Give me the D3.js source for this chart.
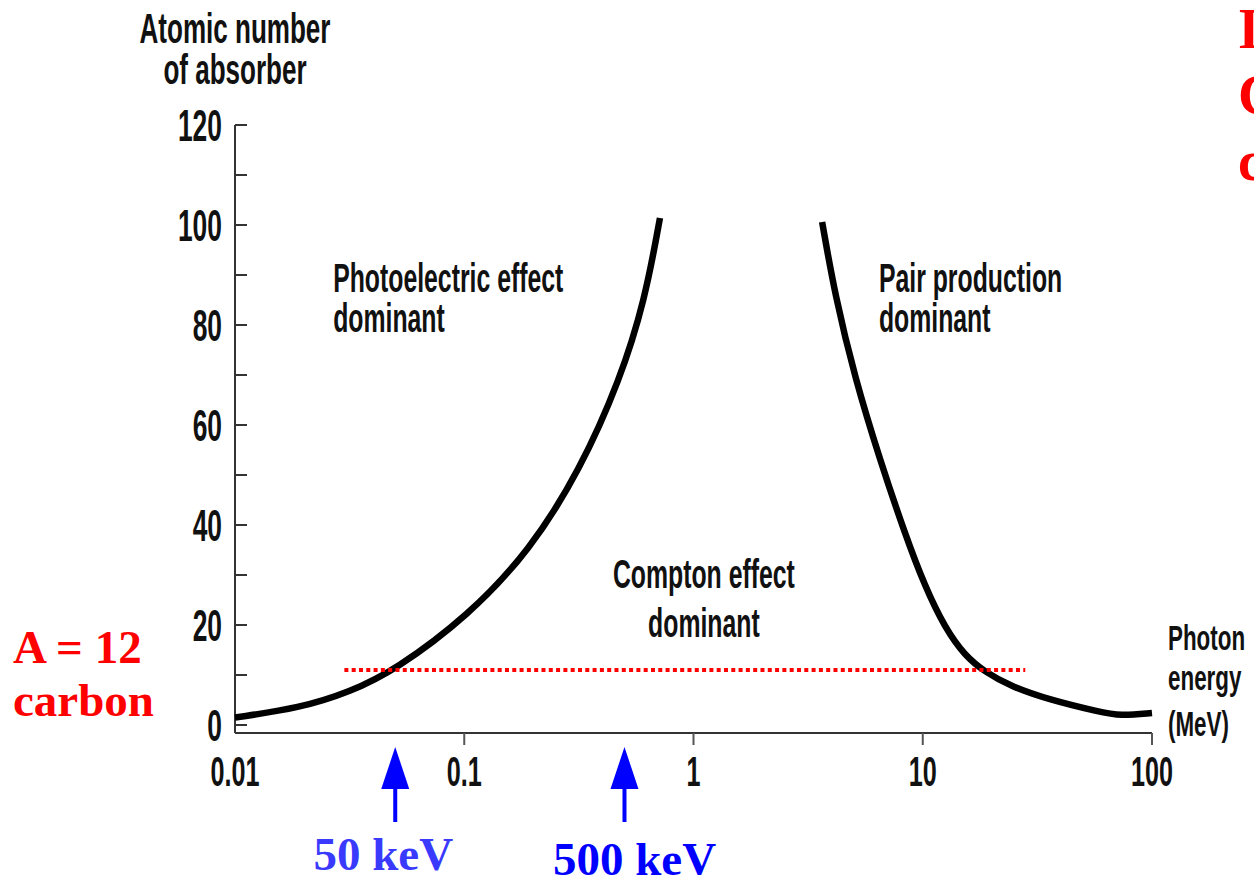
<!DOCTYPE html>
<html lang="en">
<head>
    <meta charset="UTF-8">
    <title>Photon interactions</title>
    <style>
        body { margin: 0; background-color: #fff; overflow: hidden; }
        svg { display: block; }
    </style>
</head>
<body>
<script src="https://cdnjs.cloudflare.com/ajax/libs/d3/7.8.5/d3.min.js"></script>
<script>

    let width = 1254
    let height = 875

    // boundary photoelectric / compton (energy MeV, Z)
    let photoE = [0.01, 0.0192, 0.0317, 0.05, 0.104, 0.194, 0.32, 0.478, 0.614, 0.714]
    let photoZ = [1.5, 3.4, 6.6, 11, 21.8, 35, 51, 69, 85, 101.4]
    // boundary compton / pair production
    let pairE = [3.64, 4.14, 5.06, 6.51, 8.37, 10.2, 12.5, 15.3, 18.7, 24, 35.9, 59.3, 72.5, 100]
    let pairZ = [100.6, 86, 69.4, 53, 38.2, 27.8, 19.4, 13.8, 10.6, 7.8, 5, 2.6, 1.8, 2.4]

    let xTicks = [0.01, 0.1, 1, 10, 100]
    let xTickLabels = ["0.01", "0.1", "1", "10", "100"]
    let yTicks = [0, 20, 40, 60, 80, 100, 120]
    let yMinor = [10, 30, 50, 70, 90, 110]

    let carbonZ = 11
    let carbonRange = [0.03, 28]
    let arrowE = [0.05, 0.5]
    let arrowLabels = ["50 keV", "500 keV"]

    let regions = [
        {lines: ["Photoelectric effect", "dominant"], e: 0.0268, z: 86.6, gap: 40, anchor: "start"},
        {lines: ["Pair production", "dominant"], e: 6.44, z: 86.6, gap: 40, anchor: "start"},
        {lines: ["Compton effect", "dominant"], e: 1.11, z: 27.4, gap: 49, anchor: "middle"}
    ]

    let x = d3.scaleLog().domain([0.01, 100]).range([235, 1152])
    let y = d3.scaleLinear().domain([0, 120]).range([725, 125])
    let axisY = 733
    let squeeze = 0.62

    let svg = d3.select("body").append("svg")
        .attr("width", width)
        .attr("height", height)

    let ink = svg.append("g")
        .attr("font-family", "'Liberation Sans', Arial, sans-serif")
        .attr("font-weight", "bold")
        .attr("fill", "#111")

    // condensed text: measure, then squeeze horizontally
    function label(g, str, px, py, size, anchor, k) {
        let t = g.append("text")
            .attr("x", px)
            .attr("y", py)
            .attr("font-size", size)
            .attr("text-anchor", anchor)
            .text(str)
        let w = t.node().getComputedTextLength()
        t.attr("textLength", w * (k || squeeze)).attr("lengthAdjust", "spacingAndGlyphs")
        return t
    }

    // axes
    svg.append("line")
        .attr("x1", x(0.01)).attr("x2", x(0.01))
        .attr("y1", y(120)).attr("y2", axisY)
        .attr("stroke", "#333").attr("stroke-width", 2)
    svg.append("line")
        .attr("x1", x(0.01)).attr("x2", x(100))
        .attr("y1", axisY).attr("y2", axisY)
        .attr("stroke", "#333").attr("stroke-width", 2)

    svg.selectAll(".ytick")
        .data(yTicks.concat(yMinor))
        .enter()
        .append("line")
            .attr("x1", x(0.01)).attr("x2", x(0.01) + 12)
            .attr("y1", d => y(d)).attr("y2", d => y(d))
            .attr("stroke", "#333").attr("stroke-width", 2)

    svg.selectAll(".xtick")
        .data(xTicks.slice(1))
        .enter()
        .append("line")
            .attr("x1", d => x(d)).attr("x2", d => x(d))
            .attr("y1", axisY).attr("y2", axisY + 12)
            .attr("stroke", "#555").attr("stroke-width", 2)

    yTicks.forEach(v => label(ink, String(v), x(0.01) - 13, y(v) + 16, 44, "end", 0.6))
    xTicks.forEach((v, i) => label(ink, xTickLabels[i], x(v), 786, 42, "middle", 0.6))

    label(ink, "Atomic number", 235, 43, 42, "middle")
    label(ink, "of absorber", 235, 84, 42, "middle")
    label(ink, "Photon", 1168, 650, 35, "start", 0.64)
    label(ink, "energy", 1168, 690, 35, "start", 0.64)
    label(ink, "(MeV)", 1168, 736, 35, "start", 0.64)

    regions.forEach(r => {
        r.lines.forEach((s, i) => label(ink, s, x(r.e), y(r.z) + i * r.gap, 40, r.anchor))
    })

    // boundary curves
    let line = d3.line()
        .x(d => x(d[0]))
        .y(d => y(d[1]))
        .curve(d3.curveBasis)

    ;[[photoE, photoZ], [pairE, pairZ]].forEach(([es, zs]) => {
        svg.append("path")
            .datum(es.map((e, i) => [e, zs[i]]))
            .attr("d", line)
            .attr("fill", "none")
            .attr("stroke", "#000")
            .attr("stroke-width", 6.5)
    })

    // carbon line
    svg.append("line")
        .attr("x1", x(carbonRange[0])).attr("x2", x(carbonRange[1]))
        .attr("y1", y(carbonZ)).attr("y2", y(carbonZ))
        .attr("stroke", "#ff0000")
        .attr("stroke-width", 4)
        .attr("stroke-dasharray", "4,3.3")

    let red = svg.append("g")
        .attr("font-family", "'Liberation Serif', 'Times New Roman', serif")
        .attr("font-weight", "bold")
        .attr("fill", "#ff0000")
    red.append("text").attr("x", 13).attr("y", 663).attr("font-size", 47).text("A = 12")
    red.append("text").attr("x", 13).attr("y", 716).attr("font-size", 47).text("carbon")
    let note = ["In carbon,", "Compton", "clearly dominates"]
    note.forEach((s, i) => {
        red.append("text").attr("x", 1238).attr("y", 48 + i * 66).attr("font-size", 56).text(s)
    })

    // energy arrows
    let blues = ["#3a3aff", "#0000ff"]
    arrowE.forEach((e, i) => {
        let cx = x(e)
        svg.append("path")
            .attr("d", `M${cx},747 L${cx - 14},789 L${cx + 14},789 Z`)
            .attr("fill", "#0000ff")
        svg.append("line")
            .attr("x1", cx).attr("x2", cx)
            .attr("y1", 786).attr("y2", 822)
            .attr("stroke", "#0000ff").attr("stroke-width", 4)
        svg.append("text")
            .attr("x", cx + (i ? 10 : -12))
            .attr("y", i ? 875 : 870)
            .attr("text-anchor", "middle")
            .attr("font-family", "'Liberation Serif', 'Times New Roman', serif")
            .attr("font-weight", "bold")
            .attr("font-size", 47)
            .attr("fill", blues[i])
            .text(arrowLabels[i])
    })

</script>
</body>
</html>
